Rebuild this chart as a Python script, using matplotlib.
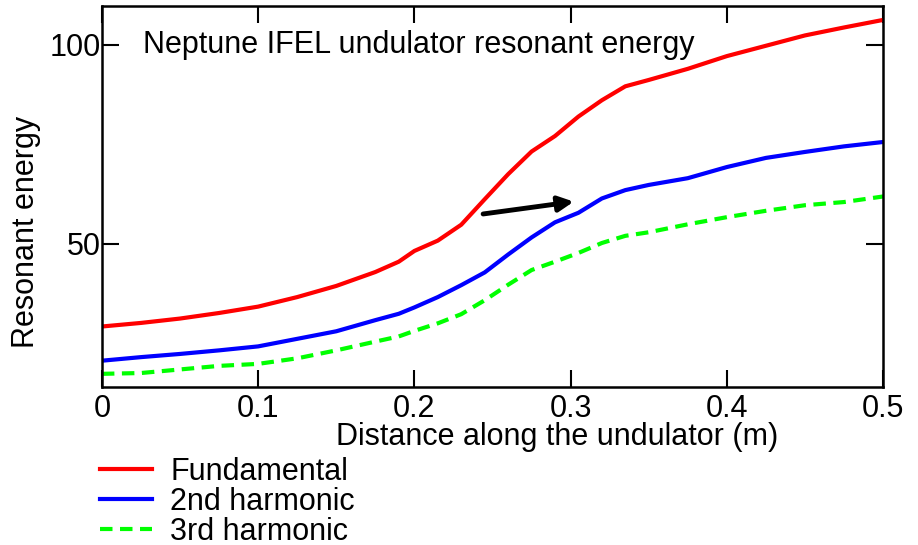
import numpy as np
import matplotlib.pyplot as plt

plt.rcParams['font.family'] = ['Liberation Sans', 'DejaVu Sans']

# distance along the undulator (m)
z = [0, 0.025, 0.05, 0.075, 0.1, 0.125, 0.15, 0.175, 0.19, 0.2, 0.215, 0.23,
     0.245, 0.26, 0.275, 0.29, 0.305, 0.32, 0.335, 0.35, 0.375, 0.4, 0.425,
     0.45, 0.475, 0.5]

# resonant energy for each harmonic
fundamental = [29.2, 30.1, 31.2, 32.6, 34.2, 36.6, 39.4, 42.9, 45.5, 48.2, 50.8, 54.8,
               61.2, 67.5, 73.2, 77.1, 82.0, 86.1, 89.6, 91.2, 94.0, 97.2, 99.8,
               102.4, 104.4, 106.3]
harm2 = [20.6, 21.5, 22.3, 23.2, 24.2, 26.1, 28.0, 30.8, 32.4, 34.0, 36.6, 39.6,
         42.8, 47.3, 51.6, 55.4, 57.8, 61.4, 63.5, 64.8, 66.5, 69.3, 71.6,
         73.1, 74.5, 75.6]
harm3 = [17.3, 17.5, 18.4, 19.3, 19.8, 21.2, 23.2, 25.4, 26.7, 28.1, 30.0, 32.3,
         35.8, 39.7, 43.4, 45.5, 47.7, 50.2, 52.0, 52.9, 54.9, 56.7, 58.3,
         59.7, 60.5, 61.9]

fs = 22

fig = plt.figure(figsize=(9.18, 5.45), dpi=100)
ax = fig.add_axes([0.111, 0.290, 0.851, 0.699])

l1, = ax.plot(z, fundamental, color='#ff0000', lw=3, label='Fundamental')
l2, = ax.plot(z, harm2, color='#0000ff', lw=3, label='2nd harmonic')
l3, = ax.plot(z, harm3, color='#00ff00', lw=3, dashes=(3, 1.8), label='3rd harmonic')

# arrow pointing at the 2nd harmonic curve
ax.annotate('', xy=(0.302, 60.6), xytext=(0.244, 57.5),
            arrowprops=dict(arrowstyle='-|>,head_length=0.9,head_width=0.45',
                            color='black', lw=3.5, shrinkA=0, shrinkB=0))

ax.text(0.026, 100, 'Neptune IFEL undulator resonant energy', fontsize=fs, va='center')

ax.set_xlim(0, 0.5)
ax.set_ylim(14, 109.8)
ax.set_xticks([0, 0.1, 0.2, 0.3, 0.4, 0.5])
ax.set_xticklabels(['0', '0.1', '0.2', '0.3', '0.4', '0.5'])
ax.set_yticks([50, 100])
ax.tick_params(direction='in', length=12, width=1.5, labelsize=fs,
               top=True, right=True)
ax.tick_params(axis='x', pad=5)
ax.tick_params(axis='y', pad=1)
for s in ax.spines.values():
    s.set_linewidth(1.8)

ax.set_xlabel('Distance along the undulator (m)', fontsize=fs)
ax.xaxis.set_label_coords(0.583, -0.093)
ax.set_ylabel('Resonant energy', fontsize=fs)
ax.yaxis.set_label_coords(-0.078, 0.407)

fig.legend(handles=[l1, l2, l3], loc='upper left', bbox_to_anchor=(0.109, 0.162),
           frameon=False, fontsize=fs, handlelength=1.7, handletextpad=0.6,
           labelspacing=0.0, borderpad=0, borderaxespad=0)

fig.savefig('out.png', dpi=100)
